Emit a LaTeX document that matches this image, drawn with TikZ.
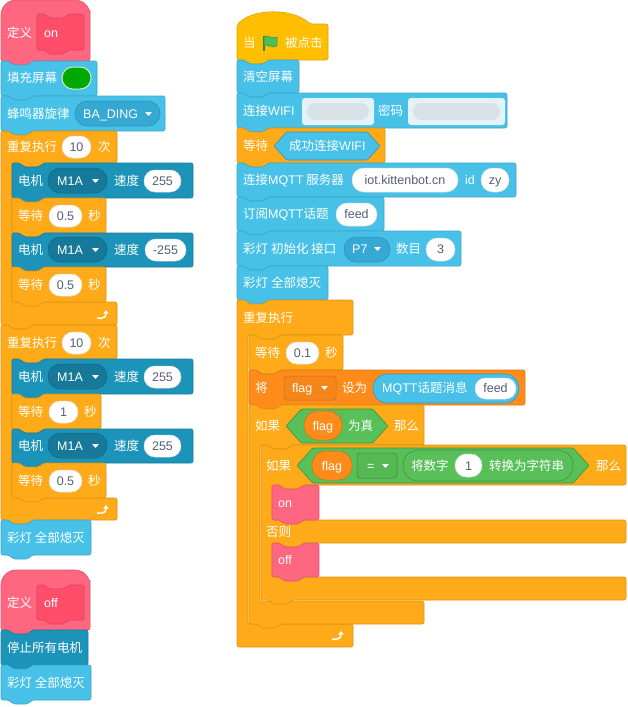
\documentclass[tikz,border=0pt]{standalone}
\usepackage{fontspec}
\setmainfont{Noto Sans CJK SC}
\newfontfamily\latfam{Liberation Sans}
\newcommand\ltn[1]{{\latfam #1}}
\usetikzlibrary{arrows.meta}
\definecolor{cyB}{HTML}{47C1E8}
\definecolor{cyD}{HTML}{36A8D4}
\definecolor{tlB}{HTML}{1C93B8}
\definecolor{tlD}{HTML}{16799A}
\definecolor{orB}{HTML}{FFAB19}
\definecolor{yeB}{HTML}{FFBF00}
\definecolor{pkB}{HTML}{FF6680}
\definecolor{pkD}{HTML}{FF4D6A}
\definecolor{vaB}{HTML}{FF8C1A}
\definecolor{grB}{HTML}{59C059}
\definecolor{ovT}{HTML}{575E75}
\definecolor{flagG}{HTML}{4CBF56}
\definecolor{fillG}{HTML}{00A800}
\definecolor{blurA}{HTML}{E4F3F9}
\definecolor{blurB}{HTML}{D9E2E6}
\newcommand\fsz{\fontsize{12.5pt}{15pt}\selectfont}
\tikzset{
  blk/.style={fill=#1, draw=#1!86!black, line width=0.6pt, rounded corners=2pt},
  tx/.style={anchor=base west, inner sep=0pt, text=white, font=\fsz},
  gx/.style={anchor=base, inner sep=0pt, text=ovT, font=\fsz\latfam},
  wx/.style={anchor=base, inner sep=0pt, text=white, font=\fsz\latfam},
  wov/.style={fill=white, draw=black!12, line width=0.5pt},
  ddc/.style={fill=cyD, draw=cyD!85!black, line width=0.5pt},
  ddt/.style={fill=tlD, draw=tlD!85!black, line width=0.5pt},
  varov/.style={fill=vaB, draw=vaB!80!black, line width=0.5pt},
  grov/.style={fill=grB, draw=grB!75!black, line width=0.6pt},
  cyrep/.style={fill=cyB, draw=cyB!78!black, line width=0.6pt},
}
\newcount\tcnt
\newcommand\T[3]{\global\advance\tcnt by 1\relax\node[tx] (t\the\tcnt) at (#1,#2+4.6) {#3};}
\newcommand\Tg[3]{\global\advance\tcnt by 1\relax\node[gx] (t\the\tcnt) at (#1,#2+4.6) {#3};}
\newcommand\Tw[3]{\global\advance\tcnt by 1\relax\node[wx] (t\the\tcnt) at (#1,#2+4.6) {#3};}
% stack block: x, y1, w, y2, colour
\newcommand\bkS[5]{\filldraw[blk=#5] (#1,#2) -- ++(8,0) -- ++(4,4) -- ++(15,0) -- ++(4,-4) -- (#1+#3,#2) -- (#1+#3,#4) -- (#1+31,#4) -- ++(-4,4) -- ++(-15,0) -- ++(-4,-4) -- (#1,#4) -- cycle;}
% C block: x, y1, w, ya, yb, y2, colour
\newcommand\bkC[7]{\filldraw[blk=#7] (#1,#2) -- ++(8,0) -- ++(4,4) -- ++(15,0) -- ++(4,-4) -- (#1+#3,#2) -- (#1+#3,#4) -- (#1+42,#4) -- ++(-4,4) -- ++(-15,0) -- ++(-4,-4) -- (#1+11,#4) -- (#1+11,#5) -- (#1+#3,#5) -- (#1+#3,#6) -- (#1+31,#6) -- ++(-4,4) -- ++(-15,0) -- ++(-4,-4) -- (#1,#6) -- cycle;}
% define hat: x, y1, w, y2, colour
\newcommand\bkHat[5]{\filldraw[blk=#5] (#1,#4) [rounded corners=15pt] -- (#1,#2) -- (#1+#3,#2) -- (#1+#3,#2+25) [rounded corners=2pt] -- (#1+#3,#4) -- (#1+31,#4) -- ++(-4,4) -- ++(-15,0) -- ++(-4,-4) -- cycle;}
% oval: x1,y1,x2,y2,style
\newcommand\ovl[5]{\pgfmathsetmacro\ovrad{0.49*(#4-#2)}\filldraw[#5, rounded corners=\ovrad pt] (#1,#2) rectangle (#3,#4);}
% hexagon: x1,y1,x2,y2,colour
\newcommand\hexa[5]{\pgfmathsetmacro\hxo{0.45*(#4-#2)}\filldraw[fill=#5, draw=#5!75!black, line width=0.6pt, rounded corners=1pt] (#1,{(#2+#4)/2}) -- (#1+\hxo,#2) -- (#3-\hxo,#2) -- (#3,{(#2+#4)/2}) -- (#3-\hxo,#4) -- (#1+\hxo,#4) -- cycle;}
\newcommand\dtri[2]{\fill[white, rounded corners=0.6pt] (#1,#2-2) -- (#1+7,#2-2) -- (#1+3.5,#2+2) -- cycle;}
\newcommand\rarr[2]{\draw[white, line width=1.5pt, -{Triangle[length=3.5pt,width=5pt]}] (#1-8,#2+5) -- (#1-3,#2+5) .. controls (#1,#2+5) and (#1+1,#2+3) .. (#1+1,#2-3);}
\begin{document}
\begin{tikzpicture}[x=1pt,y=-1pt]
\fill[white] (0,0) rectangle (627,707);
\useasboundingbox (0,0) rectangle (627,707);

% ================= LEFT =================
\bkHat{1}{0}{89}{61}{pkB}
\bkS{37}{14}{47}{50}{pkD}
\T{7}{33}{定义}\T{44}{33}{\ltn{on}}
\bkS{1}{61}{96}{96}{cyB}
\T{7}{78}{填充屏幕}
\ovl{62}{67}{91}{89}{fill=fillG, draw=white!80!fillG, line width=1pt}
\bkS{1}{96}{164}{131}{cyB}
\T{7}{114}{蜂鸣器旋律}
\ovl{75}{101}{160}{126}{ddc}
\T{83}{114}{\ltn{BA\_DING}}\dtri{145}{114}
% repeat 1
\bkC{1}{131}{116}{163}{302}{325}{orB}
\T{7}{147}{重复执行}\ovl{62}{136}{91}{158}{wov}\Tg{76.5}{147}{10}\T{98}{147}{次}
\bkS{12}{163}{181}{198}{tlB}
\T{18}{181}{电机}\ovl{48}{168}{107}{193}{ddt}\T{57}{181}{\ltn{M1A}}\dtri{92}{181}
\T{114}{181}{速度}\ovl{144}{170}{181}{192}{wov}\Tg{162.5}{181}{255}
\bkS{12}{198}{94}{233}{orB}
\T{18}{216}{等待}\ovl{49}{205}{82}{227}{wov}\Tg{65.5}{216}{0.5}\T{88}{216}{秒}
\bkS{12}{233}{181}{267}{tlB}
\T{18}{250}{电机}\ovl{48}{237}{107}{262}{ddt}\T{57}{250}{\ltn{M1A}}\dtri{92}{250}
\T{114}{250}{速度}\ovl{145}{239}{186}{261}{wov}\Tg{165.5}{250}{-255}
\bkS{12}{267}{94}{302}{orB}
\T{18}{285}{等待}\ovl{49}{274}{82}{296}{wov}\Tg{65.5}{285}{0.5}\T{88}{285}{秒}
\rarr{105}{313}
% repeat 2
\bkC{1}{325}{116}{359}{498}{520}{orB}
\T{7}{343}{重复执行}\ovl{62}{332}{91}{354}{wov}\Tg{76.5}{343}{10}\T{98}{343}{次}
\bkS{12}{359}{181}{394}{tlB}
\T{18}{377}{电机}\ovl{48}{364}{107}{389}{ddt}\T{57}{377}{\ltn{M1A}}\dtri{92}{377}
\T{114}{377}{速度}\ovl{144}{366}{181}{388}{wov}\Tg{162.5}{377}{255}
\bkS{12}{394}{89}{429}{orB}
\T{18}{412}{等待}\ovl{49}{401}{78}{423}{wov}\Tg{63.5}{412}{1}\T{84}{412}{秒}
\bkS{12}{429}{181}{463}{tlB}
\T{18}{446}{电机}\ovl{48}{433}{107}{458}{ddt}\T{57}{446}{\ltn{M1A}}\dtri{92}{446}
\T{114}{446}{速度}\ovl{144}{435}{181}{457}{wov}\Tg{162.5}{446}{255}
\bkS{12}{463}{94}{498}{orB}
\T{18}{481}{等待}\ovl{49}{470}{82}{492}{wov}\Tg{65.5}{481}{0.5}\T{88}{481}{秒}
\rarr{105}{508}
\bkS{1}{520}{90}{555}{cyB}
\T{7}{538}{彩灯 全部熄灭}
% define off
\bkHat{1}{570}{89}{630}{pkB}
\bkS{37}{585}{47}{620}{pkD}
\T{7}{603}{定义}\T{44}{603}{\ltn{off}}
\bkS{1}{630}{87}{665}{tlB}
\T{7}{648}{停止所有电机}
\bkS{1}{665}{90}{700}{cyB}
\T{7}{683}{彩灯 全部熄灭}

% ================= RIGHT =================
\filldraw[blk=yeB] (237,60) -- (237,25) .. controls (252,8) and (293,8) .. (310,24) -- (328,24) -- (328,60) -- (268,60) -- ++(-4,4) -- ++(-15,0) -- ++(-4,-4) -- cycle;
\T{243}{43}{当}
\draw[flagG!70!black, line width=1.2pt] (264,36) -- (264,51);
\filldraw[fill=flagG, draw=flagG!75!black, line width=0.5pt] (264,37) .. controls (268,34) and (272,40) .. (277,37) -- (277,46) .. controls (272,49) and (268,43) .. (264,46) -- cycle;
\T{285}{43}{被点击}
\bkS{237}{60}{62}{93}{cyB}
\T{243}{77}{清空屏幕}
\bkS{237}{93}{270}{128}{cyB}
\T{243}{111}{连接\ltn{WIFI}}
\fill[blurA, rounded corners=3pt] (302,98) rectangle (374,125);
\ovl{307}{103}{369}{120}{fill=blurB, draw=none}
\T{378}{111}{密码}
\fill[blurA, rounded corners=3pt] (408,98) rectangle (505,125);
\ovl{413}{103}{500}{120}{fill=blurB, draw=none}
\bkS{237}{128}{148}{163}{orB}
\T{243}{146}{等待}\hexa{274}{132}{380}{160}{cyB}\T{289}{146}{成功连接\ltn{WIFI}}
\bkS{237}{163}{279}{197}{cyB}
\T{243}{180}{连接\ltn{MQTT} 服务器}\ovl{352}{168}{458}{192}{wov}\Tg{405}{180}{iot.kittenbot.cn}
\T{465}{180}{\ltn{id}}\ovl{481}{168}{509}{192}{wov}\Tg{495}{180}{zy}
\bkS{237}{197}{147}{231}{cyB}
\T{243}{214}{订阅\ltn{MQTT}话题}\ovl{336}{203}{377}{226}{wov}\Tg{356.5}{214}{feed}
\bkS{237}{231}{224}{266}{cyB}
\T{243}{249}{彩灯 初始化 接口}\ovl{344}{237}{390}{262}{ddc}\T{352}{249}{\ltn{P7}}\dtri{374}{249}
\T{396}{249}{数目}\ovl{426}{238}{455}{261}{wov}\Tg{440.5}{249}{3}
\bkS{237}{266}{91}{300}{cyB}
\T{243}{283}{彩灯 全部熄灭}
% forever
\filldraw[blk=orB] (237,300) -- ++(8,0) -- ++(4,4) -- ++(15,0) -- ++(4,-4) -- (353,300) -- (353,335) -- (279,335) -- ++(-4,4) -- ++(-15,0) -- ++(-4,-4) -- (248,335) -- (248,624) -- (353,624) -- (353,647) -- (237,647) -- cycle;
\T{243}{318}{重复执行}
\rarr{340}{634}
\bkS{249}{335}{94}{370}{orB}
\T{255}{353}{等待}\ovl{286}{342}{319}{364}{wov}\Tg{302.5}{353}{0.1}\T{325}{353}{秒}
\bkS{249}{370}{276}{405}{vaB}
\T{255}{388}{将}
\filldraw[fill=vaB!96!black, draw=vaB!78!black, line width=0.5pt, rounded corners=3pt] (284,376) rectangle (336,400);
\T{292}{388}{\ltn{flag}}\dtri{321}{388}
\T{342}{388}{设为}
\ovl{373}{374}{519}{403}{cyrep}
\T{382}{388}{\ltn{MQTT}话题消息}
\ovl{475}{378}{516}{399}{wov}\Tg{495.5}{388}{feed}
% if outer
\bkC{249}{405}{175}{445}{601}{624}{orB}
\T{255}{426}{如果}
\hexa{286}{409}{388}{443}{grB}
\ovl{304}{411}{342}{440}{varov}\Tw{323}{426}{flag}
\T{348}{426}{为真}\T{394}{426}{那么}
% if-else inner
\filldraw[blk=orB] (261,445) -- ++(8,0) -- ++(4,4) -- ++(15,0) -- ++(4,-4) -- (626,445) -- (626,485) -- (303,485) -- ++(-4,4) -- ++(-15,0) -- ++(-4,-4) -- (272,485) -- (272,520) -- (626,520) -- (626,543) -- (303,543) -- ++(-4,4) -- ++(-15,0) -- ++(-4,-4) -- (272,543) -- (272,577) -- (626,577) -- (626,600) -- (292,600) -- ++(-4,4) -- ++(-15,0) -- ++(-4,-4) -- (261,600) -- cycle;
\T{266}{466}{如果}
\hexa{297}{448}{589}{483}{grB}
\ovl{312}{451}{352}{480}{varov}\Tw{332}{466}{flag}
\filldraw[fill=grB!96!black, draw=grB!70!black, line width=0.5pt, rounded corners=3pt] (357,453) rectangle (397,478);
\T{367}{466}{\ltn{=}}\dtri{382}{466}
\ovl{403}{450}{573}{481}{grov}
\T{411}{466}{将数字}
\ovl{455}{454}{482}{477}{wov}\Tg{468.5}{466}{1}
\T{489}{466}{转换为字符串}
\T{596}{466}{那么}
\bkS{272}{485}{47}{520}{pkB}
\T{278}{503}{\ltn{on}}
\T{266}{532}{否则}
\bkS{272}{543}{47}{577}{pkB}
\T{278}{560}{\ltn{off}}
\end{tikzpicture}
\end{document}
